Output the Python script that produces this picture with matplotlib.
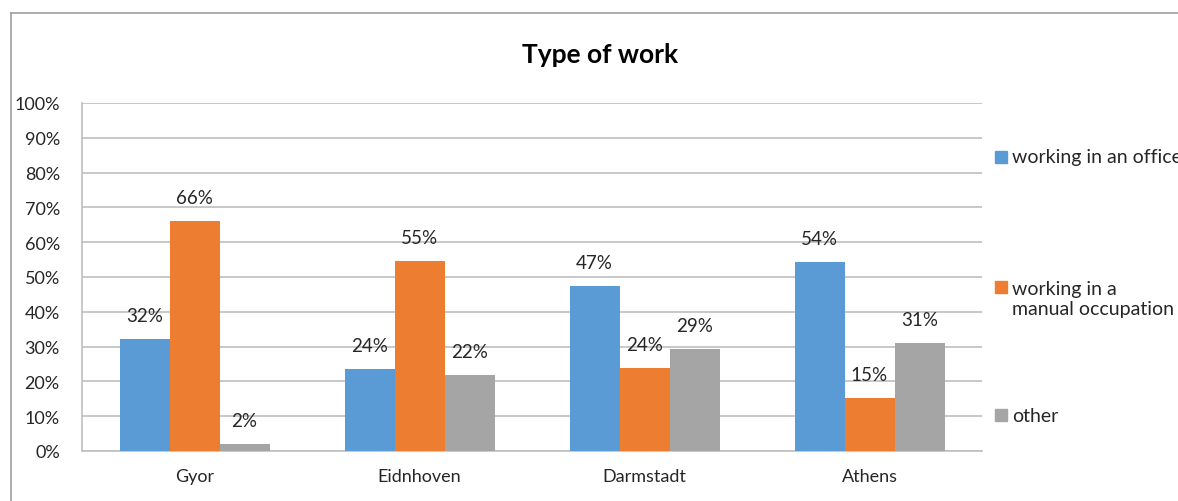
import numpy as np
import matplotlib.pyplot as plt
from matplotlib.lines import Line2D
from matplotlib.patches import Rectangle

plt.rcParams['font.family'] = ['Lato', 'DejaVu Sans']

# data (percent)
cities = ['Gyor', 'Eidnhoven', 'Darmstadt', 'Athens']
series_names = ['working in an office', 'working in a\nmanual occupation', 'other']
office = [32.2, 23.6, 47.3, 54.4]
manual = [66.0, 54.6, 23.8, 15.1]
other = [2.0, 21.8, 29.4, 31.0]
colors = ['#5B9BD5', '#ED7D31', '#A5A5A5']

W, H = 1178, 502
fig = plt.figure(figsize=(W / 100, H / 100), dpi=100)

# plot area in pixel coordinates of the reference
left, right, top, bottom = 82, 982, 104, 452
ax = fig.add_axes([left / W, 1 - bottom / H, (right - left) / W, (bottom - top) / H])

x = np.arange(len(cities))
bw = 1 / 4.5  # excel gap width 150%
grid_col = '#bfbfbf'
txt_col = '#262626'

for i, (vals, col) in enumerate(zip([office, manual, other], colors)):
    pos = x + (i - 1) * bw
    ax.bar(pos, vals, width=bw, color=col, zorder=3)
    for px, v in zip(pos, vals):
        ax.annotate(f'{v:.0f}%', (px, v), xytext=(0, 17), textcoords='offset points',
                    ha='center', va='center', fontsize=13.5, color=txt_col)

ax.set_xlim(-0.5, len(cities) - 0.5)
ax.set_ylim(0, 100)
ax.set_yticks(np.arange(0, 101, 10))
ax.set_yticklabels([f'{t}%' for t in range(0, 101, 10)])
ax.set_xticks(x)
ax.set_xticklabels(cities)
ax.tick_params(axis='both', length=0, labelsize=13, colors=txt_col)
ax.tick_params(axis='y', pad=16)
ax.tick_params(axis='x', pad=12)
ax.yaxis.grid(True, color=grid_col, linewidth=1.2, zorder=0)
for s in ['top', 'right']:
    ax.spines[s].set_visible(False)
for s in ['left', 'bottom']:
    ax.spines[s].set_color(grid_col)
    ax.spines[s].set_linewidth(1.2)

fig.text(600 / W, 1 - 55 / H, 'Type of work', ha='center', va='center',
         fontsize=19, fontweight='bold', color='black')

# chart frame (only left and top edges are visible in the reference)
frame_col = '#a0a0a0'
fig.add_artist(Line2D([11 / W, 11 / W], [1 - 14 / H, 0], color=frame_col, lw=1.2))
fig.add_artist(Line2D([11 / W, 1], [1 - 14 / H, 1 - 14 / H], color=frame_col, lw=1.2))

# legend
box_y = [158, 288, 416]
text_y = [158, 299.5, 416]
for name, col, by, ty in zip(series_names, colors, box_y, text_y):
    fig.add_artist(Rectangle((995 / W, 1 - (by + 6) / H), 12 / W, 12 / H,
                             color=col, transform=fig.transFigure))
    fig.text(1012 / W, 1 - ty / H, name, ha='left', va='center',
             fontsize=14, color=txt_col, linespacing=1.25)

fig.savefig('out.png', dpi=100)
